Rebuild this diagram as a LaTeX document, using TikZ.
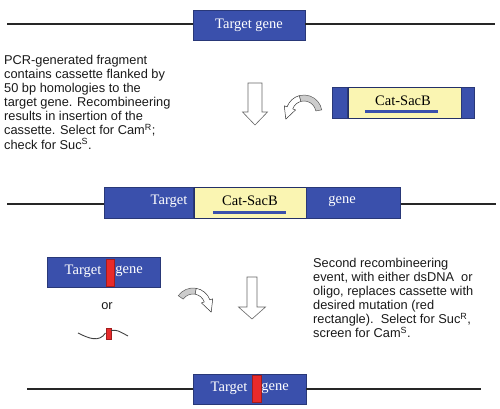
\documentclass[tikz,border=0pt]{standalone}
\usepackage{fontspec}
\setmainfont{Liberation Serif}
\setsansfont{Liberation Sans}
\usetikzlibrary{calc}
\definecolor{gblue}{RGB}{58,80,172}
\definecolor{cyell}{RGB}{250,245,178}
\definecolor{mred}{RGB}{232,42,42}
\tikzset{
  x=1pt, y=-1pt,
  dna/.style={line width=1.2pt, draw=black!85},
  bluebox/.style={fill=gblue, draw=gblue!70!black, line width=0.6pt, inner sep=0pt, minimum height=30},
  yellbox/.style={fill=cyell, draw=gblue!60!black, line width=0.6pt, inner sep=0pt, minimum height=30},
  redbox/.style={fill=mred, draw=mred!70!black, line width=0.4pt, inner sep=0pt},
  wlabel/.style={text=white, font=\fontsize{14.5}{16}\selectfont, inner sep=0pt},
  blabel/.style={text=black, font=\fontsize{14.5}{16}\selectfont, inner sep=0pt},
  underbar/.style={line width=3pt, draw=gblue},
  txt/.style={font=\sffamily\fontsize{12.8}{14.1}\selectfont, align=left, inner sep=0pt, text=black!90},
  bigarrow/.style={fill=white, draw=gray!80!black, line width=0.6pt, line join=miter},
  bandgray/.style={fill=gray!40, draw=gray!70!black, line width=0.5pt},
  bandwhite/.style={fill=white, draw=gray!40!black, line width=0.5pt, line join=round},
  oligo/.style={line width=0.9pt, draw=black!75},
}
\begin{document}
\begin{tikzpicture}
\useasboundingbox (0,0) rectangle (500,409);

% ---------- row 1: target gene ----------
\node[bluebox, minimum width=112, wlabel] (g1) at (249,25) {Target gene};
\coordinate (l1a) at (7,24);
\coordinate (l1b) at (495,24);
\draw[dna] (l1a) -- (g1.west |- l1a);
\draw[dna] (g1.east |- l1b) -- (l1b);

% ---------- left explanatory text ----------
\node[txt, anchor=north west] (t1) at (4,55) {PCR-generated fragment\\contains cassette flanked by\\50 bp homologies to the\\target gene. Recombineering\\results in insertion of the\\cassette. Select for Cam\textsuperscript{R};\\check for Suc\textsuperscript{S}.};

% ---------- big down arrow 1 ----------
\coordinate (a1) at (255,83);
\draw[bigarrow] ($(a1)+(-7,0)$) -- ($(a1)+(7,0)$) -- ($(a1)+(7,29)$) -- ($(a1)+(12.5,29)$) -- ($(a1)+(0,42)$) -- ($(a1)+(-12.5,29)$) -- ($(a1)+(-7,29)$) -- cycle;

% ---------- curved arrow 1 ----------
\coordinate (c1) at (304,113);
\draw[bandwhite] ($(c1)+(-105:18)$) arc[start angle=-105, end angle=-160, radius=18]
  -- ($(c1)+(-160:21)$) -- ($(c1)+(-160:15)+(110:12)$) -- ($(c1)+(-160:9)$)
  -- ($(c1)+(-160:12)$) arc[start angle=-160, end angle=-105, radius=12] -- cycle;
\draw[bandgray] ($(c1)+(-10:18)$) arc[start angle=-10, end angle=-105, radius=18]
  -- ($(c1)+(-105:12)$) arc[start angle=-105, end angle=-10, radius=12] -- cycle;

% ---------- cassette ----------
\node[yellbox, minimum width=113, minimum height=31] (cy) at (404.5,102.5) {};
\node[bluebox, minimum width=15, minimum height=31, anchor=east] (cl) at (cy.west) {};
\node[bluebox, minimum width=13, minimum height=31, anchor=west] (cr) at (cy.east) {};
\node[blabel] (ct) at (403,100.5) {Cat-SacB};
\coordinate (u1a) at (365,112);
\coordinate (u1b) at (438,112);
\draw[underbar] (u1a) -- (u1b);

% ---------- row 2: inserted cassette ----------
\node[yellbox, minimum width=112, minimum height=31] (my) at (250,202.5) {};
\node[bluebox, minimum width=89, minimum height=31, anchor=east] (ml) at (my.west) {};
\node[bluebox, minimum width=94, minimum height=31, anchor=west] (mr) at (my.east) {};
\node[wlabel] (mt1) at (169,201) {Target};
\node[blabel] (mt2) at (250,200.5) {Cat-SacB};
\node[wlabel] (mt3) at (342,201) {gene};
\coordinate (u2a) at (213,212);
\coordinate (u2b) at (286,212);
\draw[underbar] (u2a) -- (u2b);
\coordinate (l2a) at (7,204);
\coordinate (l2b) at (496,204);
\draw[dna] (l2a) -- (ml.west |- l2a);
\draw[dna] (mr.east |- l2b) -- (l2b);

% ---------- row 3 left: dsDNA or oligo ----------
\node[bluebox, minimum width=113, minimum height=30] (d1) at (103.5,272) {};
\node[redbox, minimum width=8, minimum height=27] (d1r) at (110,272.5) {};
\node[wlabel] (d1t1) at (83,271) {Target};
\node[wlabel] (d1t2) at (129,271) {gene};
\node[txt] (or) at (107,306) {or};
\coordinate (o1) at (78,333);
\coordinate (o2) at (105.5,333);
\coordinate (o3) at (111,330.5);
\coordinate (o4) at (128,336);
\node[redbox, minimum width=5, minimum height=11] (orr) at (108.5,334) {};
\draw[oligo] (o1) .. controls (88,338) and (99,343) .. (o2);
\draw[oligo] (o3) .. controls (117,330) .. (o4);

% ---------- curved arrow 2 ----------
\coordinate (c2) at (193,306);
\draw[bandwhite] ($(c2)+(-80:18)$) arc[start angle=-80, end angle=-20, radius=18]
  -- ($(c2)+(-20:21)$) -- ($(c2)+(-20:15)+(70:12)$) -- ($(c2)+(-20:9)$)
  -- ($(c2)+(-20:12)$) arc[start angle=-20, end angle=-80, radius=12] -- cycle;
\draw[bandgray] ($(c2)+(-145:18)$) arc[start angle=-145, end angle=-80, radius=18]
  -- ($(c2)+(-80:12)$) arc[start angle=-80, end angle=-145, radius=12] -- cycle;

% ---------- big down arrow 2 ----------
\coordinate (a2) at (252,277);
\draw[bigarrow] ($(a2)+(-5,0)$) -- ($(a2)+(5,0)$) -- ($(a2)+(5,30)$) -- ($(a2)+(13.5,30)$) -- ($(a2)+(0,42)$) -- ($(a2)+(-13.5,30)$) -- ($(a2)+(-5,30)$) -- cycle;

% ---------- right explanatory text ----------
\node[txt, anchor=north west] (t2) at (313,258) {Second recombineering\\event, with either dsDNA\ \ or\\oligo, replaces cassette with\\desired mutation (red\\rectangle).\ \ Select for Suc\textsuperscript{R},\\screen for Cam\textsuperscript{S}.};

% ---------- row 4: final ----------
\node[bluebox, minimum width=113, minimum height=30] (f1) at (249.5,389) {};
\node[redbox, minimum width=9, minimum height=27] (f1r) at (256.5,388.5) {};
\node[wlabel] (f1t1) at (229,388) {Target};
\node[wlabel] (f1t2) at (275,388) {gene};
\coordinate (l4a) at (27,389);
\coordinate (l4b) at (481,389);
\draw[dna] (l4a) -- (f1.west |- l4a);
\draw[dna] (f1.east |- l4b) -- (l4b);
\end{tikzpicture}
\end{document}
